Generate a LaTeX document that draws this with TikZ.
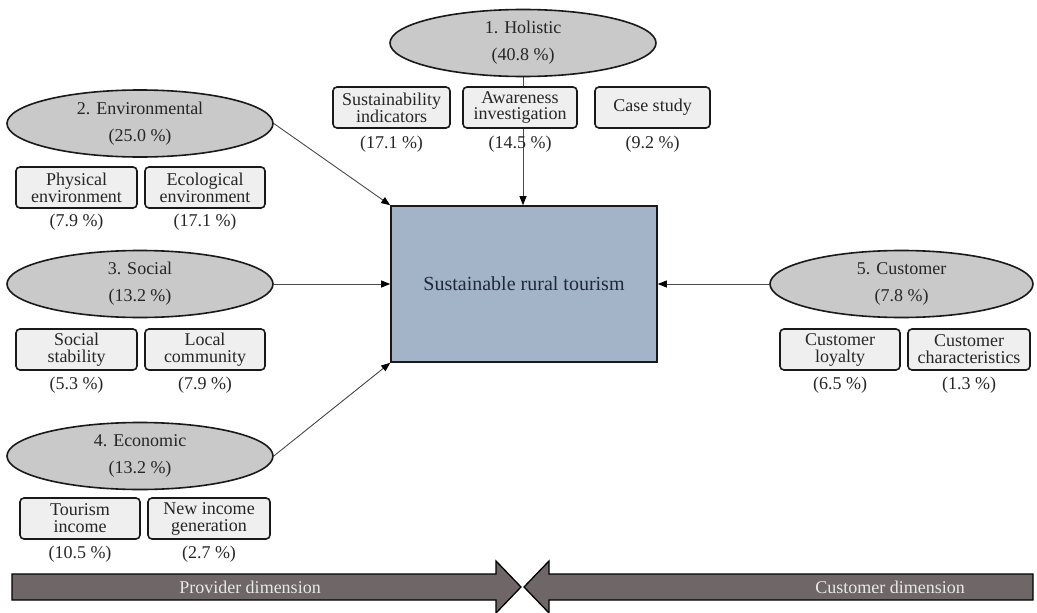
\documentclass[tikz,border=0pt]{standalone}
\usepackage{fontspec}
\setmainfont{Liberation Serif}
\usetikzlibrary{shapes.geometric,arrows.meta,backgrounds}

\definecolor{ellfill}{HTML}{C9C9C9}
\definecolor{boxfill}{HTML}{EFEFEF}
\definecolor{corefill}{HTML}{A4B4C8}
\definecolor{coretext}{HTML}{1E2838}
\definecolor{barfill}{HTML}{6E6667}
\definecolor{bartext}{HTML}{E8E8E8}
\definecolor{linkgray}{HTML}{4A4A4A}
\definecolor{txt}{HTML}{262626}

\begin{document}
\begin{tikzpicture}[x=1pt,y=-1pt,
  font=\fontsize{18}{17}\selectfont,
  dimell/.style={ellipse, draw=black!90, line width=1.6pt, fill=ellfill,
    minimum width=266pt, minimum height=67pt, inner sep=0pt, align=center,
    text=txt},
  subbox/.style={rectangle, rounded corners=4pt, draw=black!90, line width=1.6pt,
    fill=boxfill, minimum height=41pt, inner sep=0pt, align=center, text=txt},
  pct/.style={inner sep=0pt, text=txt},
  link/.style={draw=linkgray, line width=0.9pt,
    -{Triangle[length=9pt,width=7pt,color=black]}},
  bar/.style={fill=barfill, draw=black, line width=1.3pt, line join=miter},
  bartxt/.style={inner sep=0pt, text=bartext, font=\fontsize{18}{18}\selectfont}
]
\useasboundingbox (0,0) rectangle (1037,613);

% central concept
\node[rectangle, draw=black!90, line width=1.6pt, fill=corefill,
      minimum width=266pt, minimum height=156pt, text=coretext,
      font=\fontsize{20}{20}\selectfont] (core) at (524,284) {Sustainable rural tourism};

% five dimensions
\node[dimell] (hol) at (523,43) {1. Holistic\\[10pt](40.8 \%)};
\node[dimell] (env) at (140,123.5) {2. Environmental\\[10pt](25.0 \%)};
\node[dimell] (soc) at (140,284) {3. Social\\[10pt](13.2 \%)};
\node[dimell] (eco) at (140,456) {4. Economic\\[10pt](13.2 \%)};
\node[dimell, minimum width=263pt] (cus) at (901.5,284) {5. Customer\\[10pt](7.8 \%)};

% holistic topics
\node[subbox, minimum width=117pt] (h1) at (391.5,107.5) {Sustainability\\indicators};
\node[subbox, minimum width=114pt] (h2) at (520,107.5) {Awareness\\investigation};
\node[subbox, minimum width=115pt] (h3) at (652.5,107.5) {Case study};
\node[pct] (h1p) at ([yshift=-15pt]h1.south) {(17.1 \%)};
\node[pct] (h2p) at ([yshift=-15pt]h2.south) {(14.5 \%)};
\node[pct] (h3p) at ([yshift=-15pt]h3.south) {(9.2 \%)};

% environmental topics
\node[subbox, minimum width=121pt] (e1) at (76.5,187.5) {Physical\\environment};
\node[subbox, minimum width=120pt] (e2) at (205,187.5) {Ecological\\environment};
\node[pct] (e1p) at ([yshift=-13pt]e1.south) {(7.9 \%)};
\node[pct] (e2p) at ([yshift=-13pt]e2.south) {(17.1 \%)};

% social topics
\node[subbox, minimum width=121pt] (s1) at (76.5,349.5) {Social\\stability};
\node[subbox, minimum width=120pt] (s2) at (205,349.5) {Local\\community};
\node[pct] (s1p) at ([yshift=-14pt]s1.south) {(5.3 \%)};
\node[pct] (s2p) at ([yshift=-14pt]s2.south) {(7.9 \%)};

% economic topics
\node[subbox, minimum width=120pt] (n1) at (80,518.5) {Tourism\\income};
\node[subbox, minimum width=122pt] (n2) at (209,518.5) {New income\\generation};
\node[pct] (n1p) at ([yshift=-14pt]n1.south) {(10.5 \%)};
\node[pct] (n2p) at ([yshift=-14pt]n2.south) {(2.7 \%)};

% customer topics
\node[subbox, minimum width=120pt] (c1) at (840,349.5) {Customer\\loyalty};
\node[subbox, minimum width=122pt] (c2) at (969,349.5) {Customer\\characteristics};
\node[pct] (c1p) at ([yshift=-14pt]c1.south) {(6.5 \%)};
\node[pct] (c2p) at ([yshift=-14pt]c2.south) {(1.3 \%)};

% connectors run behind the topic boxes
\begin{scope}[on background layer]
  \draw[link] (hol.south) -- (hol.south |- core.north);
  \draw[link] (env.east) -- (core.north west);
  \draw[link] (soc.east) -- (core.west);
  \draw[link] (eco.east) -- (core.south west);
  \draw[link] (cus.west) -- (core.east);
\end{scope}

% provider / customer dimension bars
\draw[bar] (12,574) -- (496,574) -- (496,561) -- (521,587) -- (496,613)
  -- (496,600) -- (12,600) -- cycle;
\draw[bar] (1033,574) -- (549,574) -- (549,561) -- (524,587) -- (549,613)
  -- (549,600) -- (1033,600) -- cycle;
\node[bartxt] (prov) at (250,587) {Provider dimension};
\node[bartxt] (cust) at (890,587) {Customer dimension};
\end{tikzpicture}
\end{document}
